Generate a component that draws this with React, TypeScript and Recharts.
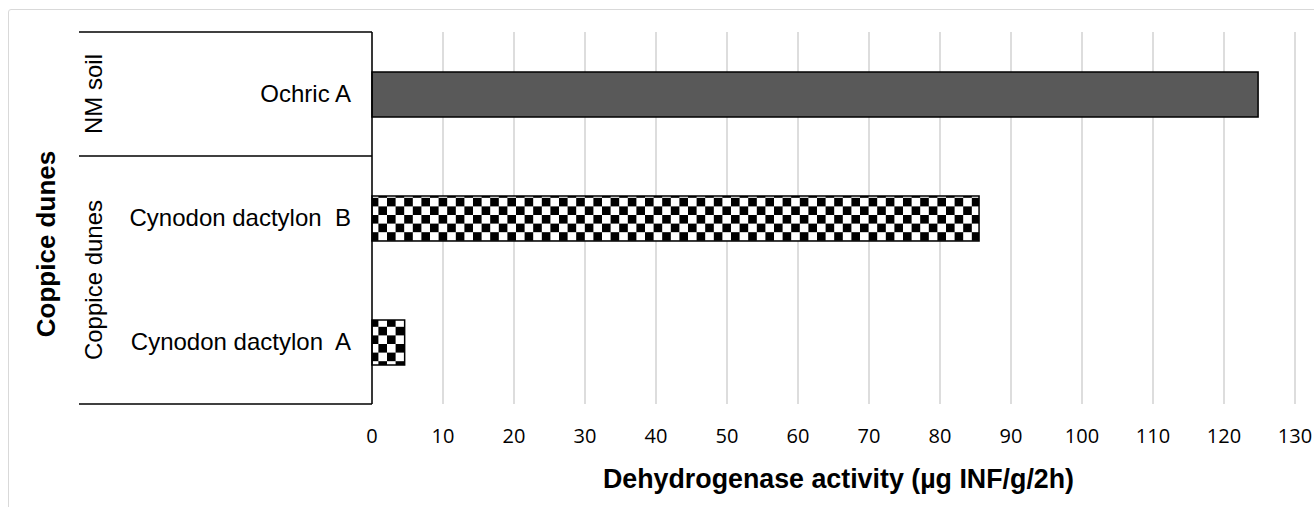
import { BarChart, Bar, XAxis, YAxis, CartesianGrid, Cell } from "recharts";

// Horizontal bar chart of dehydrogenase activity per soil horizon
const categories = ["Ochric A", "Cynodon dactylon  B", "Cynodon dactylon  A"];
const groups = ["NM soil", "Coppice dunes", "Coppice dunes"];
const activity = [124.8, 85.5, 4.6];
const xTicks = [0, 10, 20, 30, 40, 50, 60, 70, 80, 90, 100, 110, 120, 130];

const groupFill: Record<string, string> = {
  "NM soil": "#595959",
  "Coppice dunes": "url(#checker)",
};

const W = 1314;
const H = 507;
const MARGIN = { top: 32, right: 19, bottom: 0, left: 0 };
const AXIS_W = 372;
const AXIS_H = 103;
const PLOT_H = H - MARGIN.top - AXIS_H;
const SANS = "'Liberation Sans', Arial, sans-serif";

const data = categories.map((name, i) => ({
  name,
  group: groups[i],
  value: activity[i],
}));

function CategoryTick(props: any) {
  const { y, payload, index } = props;
  const n = categories.length;
  const band = PLOT_H / n;
  const top = y - band / 2;
  const bottom = y + band / 2;
  const g = groups[index];
  const first = index === 0 || groups[index - 1] !== g;
  const span = groups.filter((v) => v === g).length;
  const groupMid = top + (span * band) / 2;
  const lineX1 = 79;
  return (
    <g>
      {first && (
        <line x1={lineX1} x2={AXIS_W} y1={top} y2={top} stroke="#000" strokeWidth={1.5} />
      )}
      {index === n - 1 && (
        <line x1={lineX1} x2={AXIS_W} y1={bottom} y2={bottom} stroke="#000" strokeWidth={1.5} />
      )}
      <text
        x={AXIS_W - 21}
        y={y}
        dy="0.35em"
        textAnchor="end"
        fontFamily={SANS}
        fontSize={24}
        fill="#000"
        style={{ whiteSpace: "pre" }}
      >
        {payload.value}
      </text>
      {first && (
        <text
          x={94}
          y={groupMid}
          dy="0.35em"
          textAnchor="middle"
          fontFamily={SANS}
          fontSize={24}
          fill="#000"
          transform={`rotate(-90 94 ${groupMid})`}
        >
          {g}
        </text>
      )}
    </g>
  );
}

function ValueTick(props: any) {
  const { x, payload } = props;
  return (
    <text
      x={x}
      y={MARGIN.top + PLOT_H + 39}
      textAnchor="middle"
      fontFamily="'Open Sans', sans-serif"
      fontSize={20}
      fill="#000"
    >
      {payload.value}
    </text>
  );
}

function XTitle(props: any) {
  const vb = props.viewBox;
  const cx = vb.x + vb.width / 2 + 5;
  return (
    <text
      x={cx}
      y={488}
      textAnchor="middle"
      fontFamily={SANS}
      fontSize={26.8}
      fontWeight="bold"
      fill="#000"
    >
      Dehydrogenase activity (µg INF/g/2h)
    </text>
  );
}

function YTitle() {
  const cx = 46;
  const cy = 244;
  return (
    <text
      x={cx}
      y={cy}
      dy="0.35em"
      textAnchor="middle"
      fontFamily={SANS}
      fontSize={26}
      fontWeight="bold"
      fill="#000"
      transform={`rotate(-90 ${cx} ${cy})`}
    >
      Coppice dunes
    </text>
  );
}

export default function App() {
  return (
    <div
      style={{
        position: "absolute",
        left: 0,
        top: 0,
        width: W,
        height: H,
        overflow: "hidden",
        background: "#fff",
      }}
    >
      <div
        style={{
          position: "absolute",
          left: 8,
          top: 9,
          width: W + 20,
          height: H + 20,
          border: "1.5px solid #d9d9d9",
          borderRadius: 3,
        }}
      />
      <div style={{ position: "absolute", left: 0, top: 0 }}>
        <BarChart width={W} height={H} data={data} layout="vertical" margin={MARGIN}>
          <defs>
            <pattern id="checker" width={17.2} height={17.2} patternUnits="userSpaceOnUse">
              <rect width={17.2} height={17.2} fill="#fff" />
              <rect width={8.6} height={8.6} fill="#000" />
              <rect x={8.6} y={8.6} width={8.6} height={8.6} fill="#000" />
            </pattern>
          </defs>
          <CartesianGrid horizontal={false} stroke="#d9d9d9" strokeWidth={1.75} />
          <XAxis
            type="number"
            domain={[0, 130]}
            ticks={xTicks}
            height={AXIS_H}
            axisLine={false}
            tickLine={false}
            tick={<ValueTick />}
            interval={0}
            label={{ content: <XTitle /> }}
          />
          <YAxis
            type="category"
            dataKey="name"
            width={AXIS_W}
            axisLine={{ stroke: "#000", strokeWidth: 1.5 }}
            tickLine={false}
            tick={<CategoryTick />}
            interval={0}
            label={{ content: <YTitle /> }}
          />
          <Bar dataKey="value" barSize={45} stroke="#000" strokeWidth={1.5} isAnimationActive={false}>
            {data.map((d, i) => (
              <Cell key={i} fill={groupFill[d.group]} />
            ))}
          </Bar>
        </BarChart>
      </div>
    </div>
  );
}
